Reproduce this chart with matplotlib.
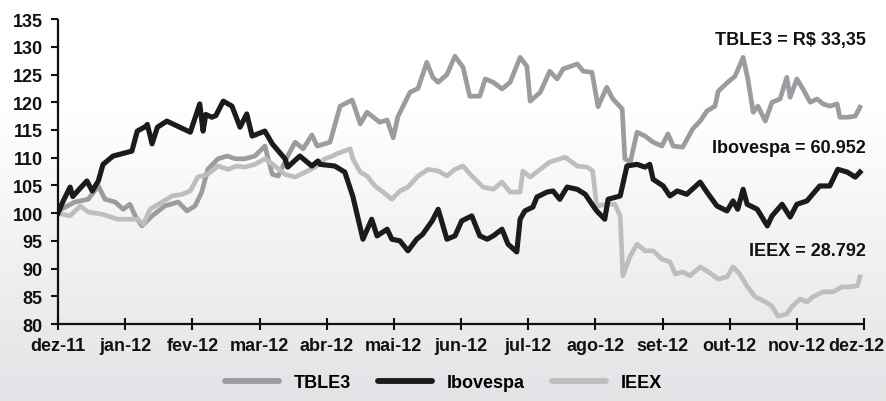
import numpy as np
import matplotlib
matplotlib.use("Agg")
import matplotlib.pyplot as plt
import matplotlib.transforms as mtransforms

plt.rcParams["font.family"] = ["Liberation Sans", "DejaVu Sans"]
plt.rcParams["font.weight"] = "bold"

# month labels (x axis is in months since dez-11)
months = ["dez-11", "jan-12", "fev-12", "mar-12", "abr-12", "mai-12", "jun-12",
          "jul-12", "ago-12", "set-12", "out-12", "nov-12", "dez-12"]

# Ibovespa (base 100)
ibov_x = [0.00, 0.07, 0.18, 0.22, 0.33, 0.43, 0.51, 0.60, 0.67, 0.82, 1.04, 1.10, 1.18, 1.30,
          1.33, 1.40, 1.48, 1.62, 1.97, 2.11, 2.16, 2.20, 2.29, 2.35, 2.46, 2.59, 2.71, 2.81,
          2.89, 3.08, 3.19, 3.38, 3.42, 3.60, 3.78, 3.87, 3.90, 4.12, 4.27, 4.39, 4.54, 4.67,
          4.75, 4.90, 4.97, 5.09, 5.21, 5.34, 5.43, 5.57, 5.66, 5.79, 5.91, 6.01, 6.16, 6.28,
          6.39, 6.48, 6.61, 6.70, 6.83, 6.88, 6.95, 7.07, 7.13, 7.28, 7.37, 7.47, 7.58, 7.73,
          7.85, 7.95, 8.02, 8.14, 8.19, 8.37, 8.47, 8.62, 8.74, 8.81, 8.86, 9.01, 9.11, 9.22,
          9.36, 9.56, 9.66, 9.81, 9.96, 10.05, 10.12, 10.20, 10.26, 10.41, 10.56, 10.63, 10.78,
          10.90, 11.00, 11.15, 11.34, 11.49, 11.61, 11.75, 11.87, 11.94]
ibov_y = [100.0, 102.0, 104.7, 103.0, 104.5, 105.8, 104.0, 105.8, 108.8, 110.3, 111.0, 111.2,
          114.8, 115.6, 116.0, 112.5, 115.5, 116.6, 114.6, 119.7, 114.8, 117.8, 117.3, 117.6,
          120.2, 119.3, 115.5, 117.9, 113.9, 114.8, 112.5, 109.8, 108.3, 110.3, 108.5, 109.4,
          108.8, 108.5, 107.4, 103.0, 95.3, 98.9, 95.9, 97.1, 95.3, 95.0, 93.2, 95.3, 96.2,
          98.6, 100.7, 95.3, 95.9, 98.6, 99.5, 95.9, 95.3, 95.9, 97.1, 94.4, 93.0, 98.9, 100.4,
          101.1, 102.9, 103.8, 104.0, 102.5, 104.7, 104.3, 103.4, 101.6, 100.4, 98.9, 102.5,
          103.1, 108.5, 108.8, 108.3, 108.8, 106.1, 104.9, 103.1, 104.0, 103.4, 105.6, 103.8,
          101.3, 100.4, 102.2, 100.7, 104.3, 101.6, 100.7, 97.7, 99.5, 101.6, 99.3, 101.6,
          102.2, 104.9, 104.9, 107.9, 107.4, 106.5, 107.4]

# TBLE3 (base 100)
tble_x = [0.00, 0.25, 0.45, 0.60, 0.70, 0.85, 0.97, 1.07, 1.15, 1.25, 1.40, 1.59, 1.79, 1.92,
          2.04, 2.14, 2.23, 2.38, 2.52, 2.64, 2.78, 2.93, 3.08, 3.19, 3.28, 3.42, 3.53, 3.65,
          3.78, 3.86, 4.05, 4.20, 4.38, 4.50, 4.60, 4.79, 4.90, 4.99, 5.06, 5.24, 5.36, 5.49,
          5.58, 5.66, 5.79, 5.91, 6.03, 6.13, 6.28, 6.36, 6.48, 6.61, 6.73, 6.88, 6.98, 7.03,
          7.18, 7.32, 7.43, 7.52, 7.73, 7.82, 7.95, 8.04, 8.17, 8.26, 8.40, 8.44, 8.52, 8.62,
          8.74, 8.86, 8.99, 9.08, 9.16, 9.30, 9.45, 9.56, 9.66, 9.78, 9.83, 9.97, 10.08, 10.20,
          10.27, 10.35, 10.42, 10.53, 10.63, 10.75, 10.85, 10.90, 11.00, 11.09, 11.20, 11.30,
          11.39, 11.49, 11.60, 11.64, 11.76, 11.87, 11.94]
tble_y = [100.4, 102.0, 102.5, 104.9, 102.5, 102.0, 100.7, 101.6, 99.5, 97.7, 99.5, 101.3,
          102.0, 100.4, 101.3, 103.8, 107.9, 109.8, 110.3, 109.8, 109.8, 110.3, 112.1, 107.0,
          106.7, 110.3, 112.8, 111.6, 114.1, 112.1, 112.8, 119.3, 120.4, 116.1, 118.2, 116.4,
          116.8, 113.6, 117.4, 121.8, 122.5, 127.2, 124.5, 123.6, 125.0, 128.3, 126.3, 121.1,
          121.1, 124.2, 123.6, 122.4, 123.6, 128.1, 126.5, 120.2, 121.8, 125.6, 124.2, 126.0,
          126.9, 125.6, 125.4, 119.2, 122.7, 120.6, 118.8, 109.8, 109.2, 114.6, 113.9, 112.8,
          112.1, 114.3, 112.1, 111.9, 115.2, 116.6, 118.4, 119.3, 122.0, 123.6, 124.7, 128.1,
          124.2, 118.2, 119.3, 116.6, 120.0, 120.6, 124.5, 120.9, 124.2, 122.4, 120.0, 120.6,
          119.7, 119.3, 119.7, 117.3, 117.3, 117.5, 119.1]

# IEEX (base 100)
ieex_x = [0.00, 0.18, 0.33, 0.45, 0.66, 0.89, 1.07, 1.19, 1.27, 1.37, 1.55, 1.70, 1.85, 1.97,
          2.08, 2.23, 2.38, 2.53, 2.66, 2.78, 2.93, 3.08, 3.23, 3.38, 3.53, 3.68, 3.83, 3.97,
          4.09, 4.15, 4.35, 4.39, 4.50, 4.60, 4.72, 4.84, 4.97, 5.09, 5.21, 5.36, 5.51, 5.66,
          5.79, 5.91, 6.03, 6.16, 6.33, 6.48, 6.61, 6.73, 6.88, 6.92, 7.03, 7.18, 7.32, 7.55,
          7.73, 7.88, 7.96, 8.02, 8.17, 8.29, 8.37, 8.41, 8.52, 8.62, 8.74, 8.86, 8.99, 9.11,
          9.19, 9.30, 9.41, 9.56, 9.68, 9.83, 9.96, 10.05, 10.15, 10.26, 10.38, 10.53, 10.63,
          10.72, 10.85, 10.93, 11.05, 11.15, 11.24, 11.39, 11.54, 11.67, 11.79, 11.90, 11.94]
ieex_y = [100.0, 99.5, 101.3, 100.2, 99.8, 98.9, 98.9, 98.9, 98.0, 100.7, 102.0, 103.1, 103.4,
          104.0, 106.5, 107.0, 108.5, 107.9, 108.5, 108.3, 108.8, 109.8, 108.5, 107.0, 106.5,
          107.4, 108.3, 109.8, 110.3, 110.7, 111.6, 109.8, 107.4, 106.7, 104.9, 103.8, 102.5,
          104.0, 104.7, 106.7, 107.9, 107.6, 106.7, 107.9, 108.5, 106.7, 104.7, 104.3, 105.6,
          103.8, 103.8, 107.6, 106.5, 107.9, 109.2, 110.1, 108.5, 108.3, 107.6, 101.3, 101.6,
          101.6, 99.5, 88.7, 92.3, 94.4, 93.2, 93.2, 91.7, 91.2, 89.0, 89.4, 88.7, 90.3, 89.4,
          88.1, 88.5, 90.3, 89.0, 86.8, 84.9, 84.0, 83.2, 81.4, 81.8, 83.2, 84.5, 84.0, 84.9,
          85.8, 85.8, 86.7, 86.7, 86.9, 88.5]

labels = ["TBLE3 = R$ 33,35", "Ibovespa = 60.952", "IEEX = 28.792"]

fs = 13

fig = plt.figure(figsize=(8.87, 4.02), dpi=100)

# background: white on top fading to light gray at the bottom
bg = fig.add_axes([0, 0, 1, 1])
grad = np.ones((402, 1))
rows = np.arange(402)
grad[:, 0] = np.clip((rows - 110) / (402 - 110), 0, 1)
white = np.array([1.0, 1.0, 1.0])
gray = np.array([0.885, 0.89, 0.9])
img = white + grad[:, :, None] * (gray - white)
bg.imshow(img, aspect="auto", extent=[0, 1, 0, 1], origin="upper")
bg.axis("off")

ax = fig.add_axes([0.0654, 0.1915, 0.9087, 0.7585])
ax.patch.set_alpha(0)

ax.plot(tble_x, tble_y, color="#9a9c9f", lw=3.4, solid_joinstyle="round", label="TBLE3")
ax.plot(ieex_x, ieex_y, color="#bcbec0", lw=3.4, solid_joinstyle="round", label="IEEX")
ax.plot(ibov_x, ibov_y, color="#1b1b1b", lw=3.7, solid_joinstyle="round", label="Ibovespa")

ax.set_xlim(0, 12)
ax.set_ylim(80, 135)
ax.set_xticks(range(13))
ax.set_xticklabels(months)
ax.set_yticks(range(80, 136, 5))

for s in ["top", "right"]:
    ax.spines[s].set_visible(False)
for s in ["left", "bottom"]:
    ax.spines[s].set_linewidth(1.6)
    ax.spines[s].set_color("#111111")
    ax.spines[s].set_capstyle("butt")

ax.tick_params(axis="y", direction="out", length=5, width=1.5, pad=6, labelsize=fs,
               colors="#111111")
ax.tick_params(axis="x", direction="inout", length=8, width=1.5, pad=5, labelsize=fs,
               colors="#111111")

# last month label is pushed left a little so it stays inside the picture
last = ax.get_xticklabels()[-1]
last.set_transform(last.get_transform() + mtransforms.ScaledTranslation(-8 / 100, 0, fig.dpi_scale_trans))

ax.text(12.03, 131.4, labels[0], ha="right", va="center", fontsize=fs, color="#111111")
ax.text(12.03, 111.9, labels[1], ha="right", va="center", fontsize=fs, color="#111111")
ax.text(12.03, 93.2, labels[2], ha="right", va="center", fontsize=fs, color="#111111")

h, l = ax.get_legend_handles_labels()
order = [0, 2, 1]
leg = fig.legend([h[i] for i in order], [l[i] for i in order], loc="center",
                 bbox_to_anchor=(0.5, 0.045), ncol=3, frameon=False, fontsize=fs,
                 handlelength=3.0, handletextpad=0.8, columnspacing=1.5)
for line in leg.get_lines():
    line.set_linewidth(4.2)
    line.set_solid_capstyle("round")

fig.savefig("out.png", dpi=100)
